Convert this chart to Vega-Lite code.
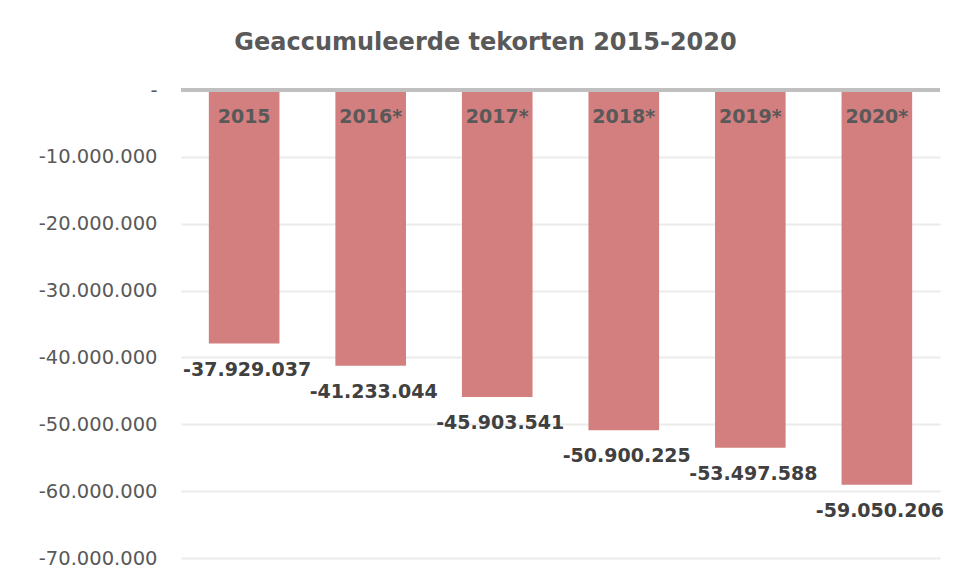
{
  "$schema": "https://vega.github.io/schema/vega-lite/v6.json",
  "width": 759,
  "height": 468,
  "autosize": {"type": "none"},
  "padding": {"left": 181, "top": 90, "right": 17, "bottom": 22},
  "background": "#ffffff",
  "config": {
    "view": {"stroke": null},
    "locale": {"number": {"decimal": ",", "thousands": ".", "grouping": [3], "currency": ["€", ""], "minus": "-"}}
  },
  "title": {
    "text": "Geaccumuleerde tekorten 2015-2020",
    "font": "DejaVu Sans",
    "fontSize": 24,
    "fontWeight": "bold",
    "color": "#595959",
    "anchor": "middle",
    "frame": "group",
    "baseline": "alphabetic",
    "offset": 6,
    "dx": -75
  },
  "data": {
    "values": [
      {"jaar": "2015", "tekort": -37929037},
      {"jaar": "2016*", "tekort": -41233044},
      {"jaar": "2017*", "tekort": -45903541},
      {"jaar": "2018*", "tekort": -50900225},
      {"jaar": "2019*", "tekort": -53497588},
      {"jaar": "2020*", "tekort": -59050206}
    ]
  },
  "encoding": {
    "x": {
      "field": "jaar",
      "type": "nominal",
      "sort": null,
      "scale": {"paddingInner": 0.442, "paddingOuter": 0.22},
      "axis": null
    }
  },
  "layer": [
    {
      "mark": {"type": "bar", "color": "#d47f7f"},
      "encoding": {
        "y": {
          "field": "tekort",
          "type": "quantitative",
          "scale": {"domain": [-70000000, 0], "nice": false},
          "axis": {
            "values": [0, -10000000, -20000000, -30000000, -40000000, -50000000, -60000000, -70000000],
            "labelExpr": "datum.value == 0 ? '-' : format(datum.value, ',')",
            "labelFont": "DejaVu Sans",
            "labelFontSize": 19.5,
            "labelColor": "#595959",
            "labelPadding": 24,
            "ticks": false,
            "domain": false,
            "title": null,
            "grid": true,
            "gridColor": "#ebebeb",
            "gridWidth": 2
          }
        }
      }
    },
    {
      "mark": {"type": "rule", "color": "#bfbfbf", "strokeWidth": 3},
      "encoding": {"y": {"datum": 0, "type": "quantitative"}, "x": {"value": 0}, "x2": {"value": 759}}
    },
    {
      "mark": {"type": "text", "font": "DejaVu Sans", "fontSize": 19, "fontWeight": "bold", "color": "#595959", "baseline": "middle", "dy": 27},
      "encoding": {
        "y": {"datum": 0, "type": "quantitative"},
        "text": {"field": "jaar"}
      }
    },
    {
      "mark": {"type": "text", "font": "DejaVu Sans", "fontSize": 19, "fontWeight": "bold", "color": "#404040", "baseline": "middle", "dy": 26, "dx": 3},
      "encoding": {
        "y": {"field": "tekort", "type": "quantitative"},
        "text": {"field": "tekort", "type": "quantitative", "format": ","}
      }
    }
  ]
}
